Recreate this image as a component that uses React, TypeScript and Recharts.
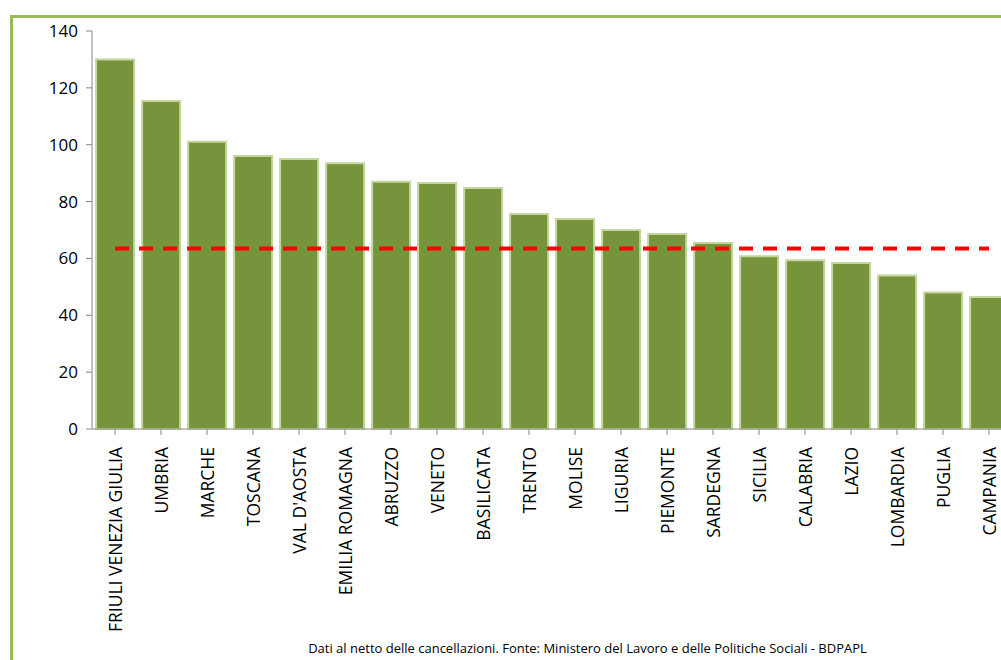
import { BarChart, Bar, XAxis, YAxis, ReferenceLine } from "recharts";

const REGIONS = [
  "FRIULI VENEZIA GIULIA", "UMBRIA", "MARCHE", "TOSCANA", "VAL D'AOSTA",
  "EMILIA ROMAGNA", "ABRUZZO", "VENETO", "BASILICATA", "TRENTO", "MOLISE",
  "LIGURIA", "PIEMONTE", "SARDEGNA", "SICILIA", "CALABRIA", "LAZIO",
  "LOMBARDIA", "PUGLIA", "CAMPANIA",
];
const VALUES = [
  130, 115.4, 101, 96, 95, 93.5, 87, 86.5, 84.8, 75.6, 73.9,
  70, 68.6, 65.4, 60.8, 59.4, 58.4, 54, 48, 46.4,
];
const AVERAGE = 63.5;
const Y_TICKS = [0, 20, 40, 60, 80, 100, 120, 140];

const data = REGIONS.map((name, i) => ({ name, value: VALUES[i] }));
const FONT = "'Open Sans', 'Liberation Sans', sans-serif";

function RotatedTick({ x, y, payload }: any) {
  return (
    <text
      x={x}
      y={y + 10}
      transform={`rotate(-90, ${x}, ${y + 10})`}
      textAnchor="end"
      dominantBaseline="central"
      fontSize={17.5}
      fontFamily={FONT}
      fill="#000"
    >
      {payload.value}
    </text>
  );
}

export default function App() {
  return (
    <div style={{ position: "fixed", left: 0, top: 0, width: 1001, height: 660, overflow: "hidden", background: "#fff" }}>
      <div
        style={{
          position: "absolute", left: 10, top: 15, width: 1010, height: 660,
          border: "3px solid #9BBB59", boxSizing: "border-box",
        }}
      />
      <div style={{ position: "absolute", left: 0, top: 0 }}>
        <BarChart
          width={1030}
          height={660}
          data={data}
          margin={{ top: 31, right: 18, bottom: 11, left: 32 }}
          barCategoryGap="9%"
        >
          <XAxis
            dataKey="name"
            interval={0}
            height={220}
            tick={<RotatedTick />}
            tickLine={{ stroke: "#868686" }}
            axisLine={{ stroke: "#868686" }}
          />
          <YAxis
            domain={[0, 140]}
            ticks={Y_TICKS}
            width={60}
            tick={{ fontSize: 17, fill: "#000", fontFamily: FONT, dx: -6 }}
            tickLine={{ stroke: "#868686" }}
            axisLine={{ stroke: "#868686" }}
          />
          <Bar dataKey="value" fill="#77933C" stroke="#C3D69B" strokeWidth={2} isAnimationActive={false} />
          <ReferenceLine
            segment={[
              { x: REGIONS[0], y: AVERAGE },
              { x: REGIONS[REGIONS.length - 1], y: AVERAGE },
            ]}
            stroke="#FF0000"
            strokeWidth={4}
            strokeDasharray="14 10"
          />
        </BarChart>
      </div>
      <div
        style={{
          position: "absolute", left: 0, width: 1175, top: 639, textAlign: "center",
          fontSize: 13, fontFamily: FONT, color: "#000",
        }}
      >
        Dati al netto delle cancellazioni. Fonte: Ministero del Lavoro e delle Politiche Sociali - BDPAPL
      </div>
    </div>
  );
}
